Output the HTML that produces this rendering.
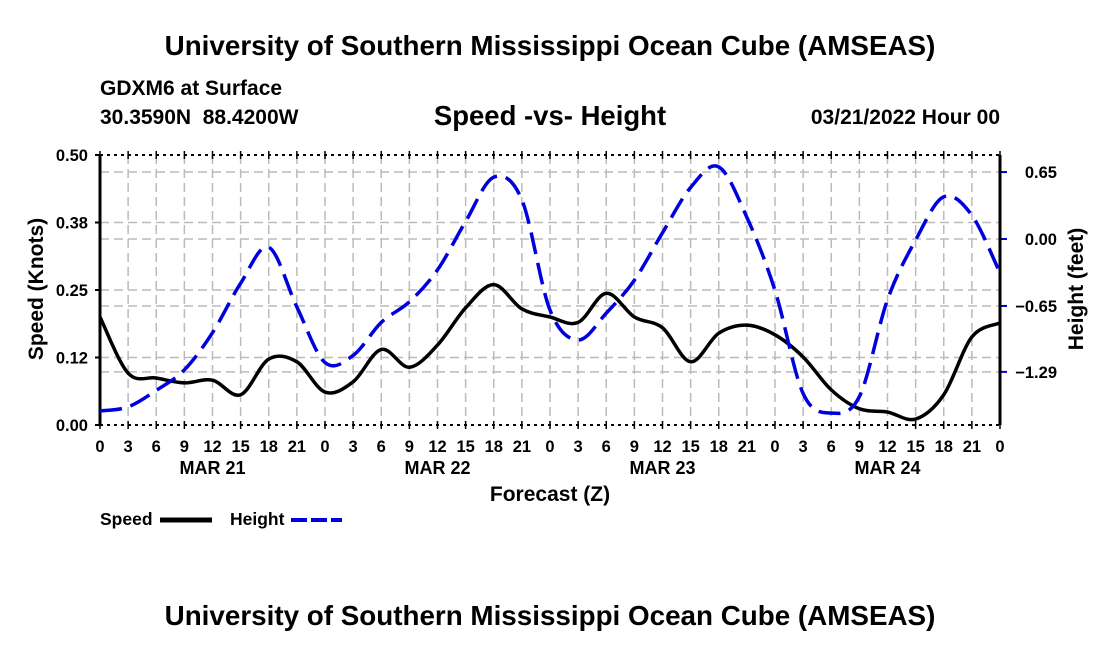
<!DOCTYPE html>
<html><head><meta charset="utf-8"><style>
body{margin:0;background:#fff;width:1100px;height:650px;overflow:hidden}
svg text{font-family:"Liberation Sans",Arial,sans-serif;font-weight:bold;fill:#000}
</style></head><body>
<svg id="chart" width="1100" height="650">
<text x="550" y="55" font-size="27.8" text-anchor="middle">University of Southern Mississippi Ocean Cube (AMSEAS)</text>
<text x="100" y="95" font-size="21">GDXM6 at Surface</text>
<text x="100" y="124" font-size="21" xml:space="preserve">30.3590N  88.4200W</text>
<text x="550" y="125" font-size="27.5" text-anchor="middle">Speed -vs- Height</text>
<text x="1000" y="124" font-size="21" text-anchor="end">03/21/2022 Hour 00</text>
<g id="grid"></g><g id="axes"></g><g id="series"></g>
<text x="550" y="501" font-size="21" text-anchor="middle">Forecast (Z)</text>
<text transform="translate(43,289) rotate(-90)" font-size="21" text-anchor="middle">Speed (Knots)</text>
<text transform="translate(1083,289) rotate(-90)" font-size="21" text-anchor="middle">Height (feet)</text>
<g>
<text x="100" y="525" font-size="17.5">Speed</text>
<line x1="160" y1="520" x2="212" y2="520" stroke="#000" stroke-width="5"/>
<text x="230" y="525" font-size="17.5">Height</text>
<line x1="291" y1="520" x2="342" y2="520" stroke="#0000dd" stroke-width="4" stroke-dasharray="16,4"/>
</g>
<text x="550" y="625" font-size="27.8" text-anchor="middle">University of Southern Mississippi Ocean Cube (AMSEAS)</text>
</svg>
<script>
const hours=[0,3,6,9,12,15,18,21,24,27,30,33,36,39,42,45,48,51,54,57,60,63,66,69,72,75,78,81,84,87,90,93,96];
const speed=[0.2,0.096,0.087,0.078,0.083,0.056,0.122,0.117,0.061,0.08,0.14,0.107,0.148,0.217,0.26,0.215,0.2,0.19,0.244,0.2,0.18,0.117,0.17,0.185,0.167,0.126,0.065,0.03,0.024,0.011,0.056,0.163,0.189];
const height=[-1.67,-1.63,-1.47,-1.27,-0.91,-0.43,-0.08,-0.66,-1.2,-1.13,-0.81,-0.61,-0.3,0.17,0.6,0.38,-0.69,-0.98,-0.72,-0.4,0.06,0.5,0.7,0.21,-0.5,-1.5,-1.69,-1.53,-0.59,-0.01,0.41,0.23,-0.33];
const speedTicks=[0,0.125,0.25,0.375,0.5];
const speedTickLabels=["0.00","0.12","0.25","0.38","0.50"];
const heightTicks=[0.65,0,-0.65,-1.29];
const heightTickLabels=["0.65","0.00","\u22120.65","\u22121.29"];
const dayLabels=["MAR 21","MAR 22","MAR 23","MAR 24"];
const L=100,R=1000,T=155,B=425;
const xs=h=>L+(R-L)*h/96;
const ys=v=>B-(B-T)*v/0.5;
const yh=v=>239-v*103;
const NS="http://www.w3.org/2000/svg";
function mk(tag,attrs,parent){const e=document.createElementNS(NS,tag);for(const k in attrs)e.setAttribute(k,attrs[k]);parent.appendChild(e);return e;}
const grid=document.getElementById('grid'),axes=document.getElementById('axes'),ser=document.getElementById('series');
for(let h=3;h<96;h+=3){const l=mk('line',{x1:xs(h),x2:xs(h),y1:T,y2:B,stroke:'#bbb','stroke-width':1.5,'stroke-dasharray':'9,5'},grid);

}
speedTicks.forEach((v,i)=>{if(i>0&&i<4){const l=mk('line',{x1:L,x2:R,y1:ys(v),y2:ys(v),stroke:'#bbb','stroke-width':1.5,'stroke-dasharray':'9,5'},grid);

}
const tk=mk('line',{x1:L-5,x2:L,y1:ys(v),y2:ys(v),stroke:'#000','stroke-width':2},axes);


const t=mk('text',{x:L-12,y:ys(v)+6,'font-size':16.5,'text-anchor':'end'},axes);t.textContent=speedTickLabels[i];

});
heightTicks.forEach((v,i)=>{const l=mk('line',{x1:L,x2:R,y1:yh(v),y2:yh(v),stroke:'#bbb','stroke-width':1.5,'stroke-dasharray':'9,5'},grid);


const tk=mk('line',{x1:R,x2:R+7,y1:yh(v),y2:yh(v),stroke:'#0000cc','stroke-width':2},axes);


const t=mk('text',{x:1057,y:yh(v)+6,'font-size':16.5,'text-anchor':'end'},axes);t.textContent=heightTickLabels[i];

});
[T,B].forEach(y=>{const l=mk('line',{x1:L,x2:R,y1:y,y2:y,stroke:'#000','stroke-width':2,'stroke-dasharray':'3,4'},axes);

});
[L,R].forEach(x=>{const l=mk('line',{x1:x,x2:x,y1:T,y2:B,stroke:'#000','stroke-width':3},axes);

});
for(let h=0;h<=96;h+=3){[[T-4,T+4],[B-4,B+4]].forEach(p=>{const l=mk('line',{x1:xs(h),x2:xs(h),y1:p[0],y2:p[1],stroke:'#000','stroke-width':1.5},axes);

});
const t=mk('text',{x:xs(h),y:452,'font-size':16.5,'text-anchor':'middle'},axes);t.textContent=String(h%24);

}
dayLabels.forEach((d,i)=>{const t=mk('text',{x:xs(i*24+12),y:474,'font-size':18,'text-anchor':'middle'},axes);t.textContent=d;

});
function smooth(pts){let d='M'+pts[0][0]+','+pts[0][1];for(let i=0;i<pts.length-1;i++){const p0=pts[Math.max(0,i-1)],p1=pts[i],p2=pts[i+1],p3=pts[Math.min(pts.length-1,i+2)];
d+=' C'+(p1[0]+(p2[0]-p0[0])/6)+','+(p1[1]+(p2[1]-p0[1])/6)+' '+(p2[0]-(p3[0]-p1[0])/6)+','+(p2[1]-(p3[1]-p1[1])/6)+' '+p2[0]+','+p2[1];}return d;}
const sp=mk('path',{d:smooth(hours.map((h,i)=>[xs(h),ys(speed[i])])),fill:'none',stroke:'#000','stroke-width':3.5},ser);


const hp=mk('path',{d:smooth(hours.map((h,i)=>[xs(h),yh(height[i])])),fill:'none',stroke:'#0000dd','stroke-width':3.5,'stroke-dasharray':'22,9'},ser);


</script>
</body></html>
